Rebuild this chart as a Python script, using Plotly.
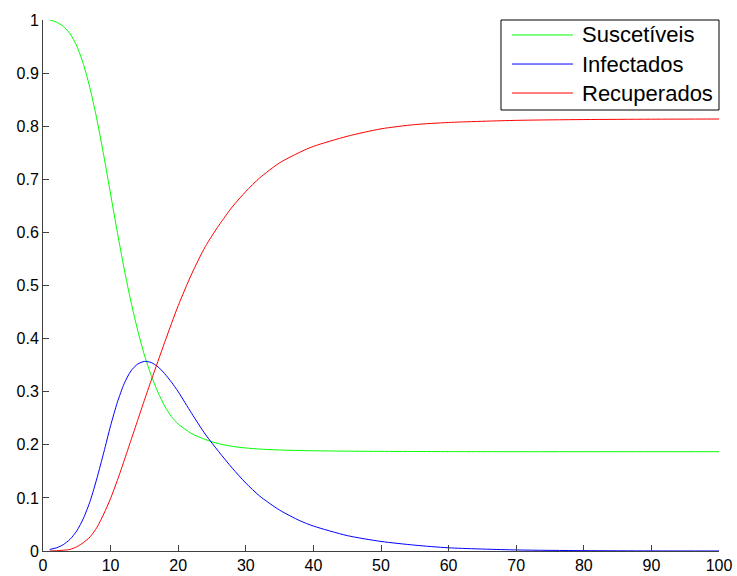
import plotly.graph_objects as go

t = [1, 2, 3, 4, 5, 6, 7, 8, 9, 10, 11, 12, 13, 14, 15, 16, 17, 18, 19, 20,
     22, 24, 26, 28, 30, 32, 35, 38, 40, 45, 50, 55, 60, 70, 80, 90, 100]

suscetiveis = [1.0, 0.996, 0.988, 0.974, 0.951, 0.916, 0.869, 0.811, 0.744, 0.672,
               0.600, 0.532, 0.470, 0.416, 0.369, 0.331, 0.299, 0.273, 0.253, 0.239,
               0.221, 0.210, 0.202, 0.197, 0.194, 0.192, 0.1902, 0.1892, 0.1888, 0.188,
               0.1876, 0.1874, 0.1872, 0.187, 0.187, 0.187, 0.187]

infectados = [0.003, 0.006, 0.012, 0.022, 0.038, 0.062, 0.095, 0.138, 0.186, 0.236,
              0.280, 0.315, 0.339, 0.352, 0.357, 0.355, 0.347, 0.334, 0.318, 0.300,
              0.259, 0.220, 0.187, 0.156, 0.128, 0.104, 0.077, 0.057, 0.047, 0.029,
              0.018, 0.011, 0.006, 0.002, 0.0007, 0.0002, 0.0001]

recuperados = [0.0, 0.0005, 0.0015, 0.003, 0.008, 0.016, 0.027, 0.045, 0.07, 0.099,
               0.133, 0.17, 0.208, 0.246, 0.284, 0.321, 0.357, 0.393, 0.428, 0.462,
               0.522, 0.573, 0.613, 0.648, 0.677, 0.702, 0.731, 0.751, 0.762, 0.781,
               0.795, 0.803, 0.807, 0.811, 0.8125, 0.8132, 0.8135]

x_ticks = [0, 10, 20, 30, 40, 50, 60, 70, 80, 90, 100]
y_ticks = [0, 0.1, 0.2, 0.3, 0.4, 0.5, 0.6, 0.7, 0.8, 0.9, 1]
y_tick_text = ["0", "0.1", "0.2", "0.3", "0.4", "0.5", "0.6", "0.7", "0.8", "0.9", "1"]

series = [("Suscetíveis", suscetiveis, "#00ff00"),
          ("Infectados", infectados, "#0000ff"),
          ("Recuperados", recuperados, "#ff0000")]

font = "Liberation Sans, Arial, Helvetica, sans-serif"
axis_color = "#404040"

fig = go.Figure()
for name, vals, color in series:
    fig.add_trace(go.Scatter(x=t, y=vals, name=name, mode="lines", showlegend=False,
                             line=dict(color=color, width=1, shape="spline", smoothing=0.7)))

# Legend drawn MATLAB-style (long line samples) in paper coordinates
shapes = [dict(type="rect", xref="paper", yref="paper", x0=0.6775, x1=1.0, y0=0.8305, y1=1.0,
               line=dict(color="black", width=1), fillcolor="white", layer="above")]
annotations = []
legend_rows = [0.9718, 0.9171, 0.8625]
for (name, _, color), yy in zip(series, legend_rows):
    shapes.append(dict(type="line", xref="paper", yref="paper", x0=0.6938, x1=0.784,
                       y0=yy, y1=yy, line=dict(color=color, width=1), layer="above"))
    annotations.append(dict(text=name, xref="paper", yref="paper", x=0.7944, y=yy,
                            xanchor="left", yanchor="middle", showarrow=False,
                            font=dict(size=22, family=font, color="black")))

fig.update_layout(
    width=737, height=576,
    margin=dict(l=43, r=18, t=20, b=25),
    paper_bgcolor="white", plot_bgcolor="white",
    font=dict(family=font, size=16, color="black"),
    showlegend=False,
    shapes=shapes, annotations=annotations,
    xaxis=dict(range=[0, 100], tickvals=x_ticks, ticks="inside", ticklen=6,
               tickcolor=axis_color, showline=True, linecolor=axis_color, linewidth=1,
               showgrid=False, zeroline=False, tickfont=dict(size=16, color="black"),
               automargin=False),
    yaxis=dict(range=[0, 1], tickvals=y_ticks, ticktext=y_tick_text, ticks="inside",
               ticklen=6, tickcolor=axis_color, showline=True, linecolor=axis_color,
               linewidth=1, showgrid=False, zeroline=False,
               tickfont=dict(size=16, color="black"), automargin=False),
)

fig.write_html("out.html")
